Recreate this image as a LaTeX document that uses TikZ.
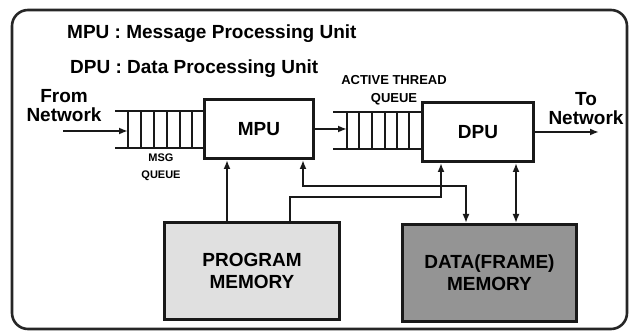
\documentclass[tikz,border=0pt]{standalone}
\usepackage{fontspec}
\setmainfont{Liberation Sans}
\usetikzlibrary{arrows.meta}
\begin{document}
\begin{tikzpicture}[x=1pt,y=-1pt,
  big/.style={font=\fontsize{19}{19}\selectfont\bfseries, inner sep=0pt, align=center},
  bigbox/.style={font=\fontsize{19}{22}\selectfont\bfseries, align=center},
  small/.style={font=\fontsize{13}{18}\selectfont\bfseries, inner sep=0pt, align=center},
  tiny/.style={font=\fontsize{11}{17}\selectfont\bfseries, inner sep=0pt, align=center},
  unitbox/.style={draw=black!90, line width=3pt, inner sep=0pt},
  arr/.style={line width=2pt, draw=black!90, -{Latex[length=9pt,width=7pt]}},
  darr/.style={line width=2pt, draw=black!90, {Latex[length=9pt,width=7pt]}-{Latex[length=9pt,width=7pt]}},
  qline/.style={line width=2pt, draw=black!90},
  frame/.style={line width=2.6pt, draw=black!85, rounded corners=16pt}
]
\useasboundingbox (0,0) rectangle (630,334);
\draw[frame] (12,10) rectangle (627,329);

% titles
\node[big, anchor=west] (t1) at (67,34) {MPU : Message Processing Unit};
\node[big, anchor=west] (t2) at (70,69) {DPU : Data Processing Unit};

% units
\node[unitbox, bigbox, minimum width=109pt, minimum height=59pt] (mpu) at (259,129) {MPU};
\node[unitbox, bigbox, minimum width=111pt, minimum height=59pt] (dpu) at (478,132) {DPU};
\node[unitbox, bigbox, fill=black!12, minimum width=175pt, minimum height=97pt] (pm) at (252,271) {PROGRAM\\MEMORY};
\node[unitbox, bigbox, fill=black!42, minimum width=174pt, minimum height=97pt] (dm) at (489.5,273) {DATA(FRAME)\\MEMORY};

% labels
\node[big] (from) at (64,106) {From\\Network};
\node[big] (to) at (586,108.5) {To\\Network};
\node[small] (atq) at (394,90) {ACTIVE THREAD\\QUEUE};
\node[tiny] (msgq) at (161,167) {MSG\\QUEUE};

% message queue
\draw[qline] (115,111) -- (mpu.west |- 0,111);
\draw[qline] (115,148) -- (mpu.west |- 0,148);
\foreach \x in {128,141,154,167,180,192} \draw[qline] (\x,111) -- (\x,148);
% active thread queue
\draw[qline] (333,112) -- (dpu.west |- 0,112);
\draw[qline] (333,149) -- (dpu.west |- 0,149);
\foreach \x in {347,359,372,385,397,409} \draw[qline] (\x,112) -- (\x,149);

% coordinates
\coordinate (fn) at (63,131);
\coordinate (q1in) at (128,131);
\coordinate (q2in) at (347,129);
\coordinate (tn) at (599,132);
\coordinate (c227) at (227,0);
\coordinate (c290) at (290,0);
\coordinate (c303) at (303,0);
\coordinate (c441) at (441,0);
\coordinate (c466) at (466,0);
\coordinate (c516) at (516,0);
\coordinate (r186) at (0,186);
\coordinate (r197) at (0,197);

% flow arrows
\draw[arr] (fn) -- (q1in);
\draw[arr] (mpu.east) -- (q2in);
\draw[arr] (dpu.east) -- (tn);

% memory connections
\draw[arr] (pm.north -| c227) -- (mpu.south -| c227);
\draw[arr] (pm.north -| c290) -- (c290 |- r197) -- (c441 |- r197) -- (dpu.south -| c441);
\draw[darr] (mpu.south -| c303) -- (c303 |- r186) -- (c466 |- r186) -- (dm.north -| c466);
\draw[darr] (dpu.south -| c516) -- (dm.north -| c516);
\end{tikzpicture}
\end{document}
